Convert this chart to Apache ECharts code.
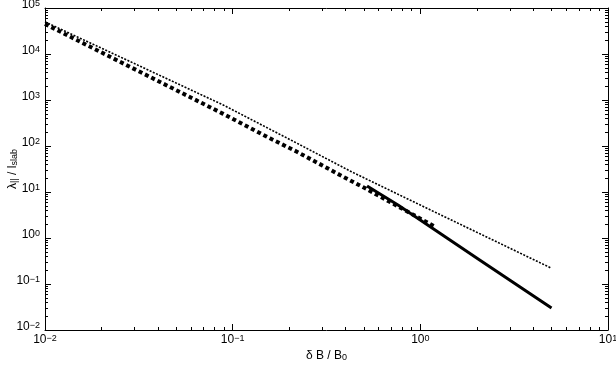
<!DOCTYPE html>
<html>
<head>
<meta charset="utf-8">
<script src="https://cdn.jsdelivr.net/npm/echarts@6/dist/echarts.min.js"></script>
<style>
  html, body { margin: 0; padding: 0; background: #fff; }
  #chart { width: 616px; height: 365px; }
</style>
</head>
<body>
<div id="chart"></div>
<script>
  // values (x = dB/B0, y = lambda_par / l_slab)
  const dottedLine = [[0.01, 50000], [0.089, 780], [0.22, 115], [0.43, 27.5], [1.0, 5.2], [5.0, 0.22]];
  const dashedLine = [[0.01, 45000], [0.089, 500], [0.158, 147], [0.22, 75], [0.373, 23.4], [0.5, 12.5], [1.2, 1.75]];
  const solidLine = [[0.52, 13.5], [0.76, 5.2], [2.08, 0.33], [5.0, 0.03]];

  const xDecades = [0.01, 0.1, 1, 10];
  const yDecades = [0.01, 0.1, 1, 10, 100, 1000, 10000, 100000];

  const font = 'Liberation Sans, Arial, Helvetica, sans-serif';

  function minorOf(decades) {
    let out = [];
    for (let i = 0; i < decades.length - 1; i++) {
      for (let k = 2; k <= 9; k++) {
        out.push(+(decades[i] * k).toPrecision(6));
      }
    }
    return out;
  }

  function powLabel(v) {
    const e = Math.round(Math.log10(v));
    return '{b|10}{s|' + (e < 0 ? '\u2212' + (-e) : e) + '}';
  }

  const powRich = {
    b: { fontSize: 12, lineHeight: 12, padding: [6, 0, 0, 0], verticalAlign: 'bottom', fontFamily: font, color: '#000' },
    s: { fontSize: 9, lineHeight: 9, verticalAlign: 'top', fontFamily: font, color: '#000' }
  };

  const lineStyle = { color: '#000', width: 1 };

  function axis(kind, pos, vals, minor, main) {
    const isX = kind === 'x';
    const a = {
      type: 'log',
      logBase: 10,
      gridIndex: 0,
      position: pos,
      min: vals[0],
      max: vals[vals.length - 1],
      splitLine: { show: false },
      minorTick: { show: false },
      axisLine: { show: !minor, lineStyle },
      axisTick: {
        show: true,
        inside: true,
        length: minor ? 3 : 6,
        lineStyle,
        customValues: minor ? minorOf(vals) : vals
      },
      axisLabel: { show: false }
    };
    if (main) {
      a.axisLabel = {
        show: true,
        customValues: vals,
        formatter: powLabel,
        rich: powRich,
        margin: isX ? 4 : 5,
        padding: isX ? 0 : [0, 0, 6, 0]
      };
    }
    return a;
  }

  const xAxes = [
    axis('x', 'bottom', xDecades, false, true),
    axis('x', 'bottom', xDecades, true, false),
    axis('x', 'top', xDecades, false, false),
    axis('x', 'top', xDecades, true, false)
  ];
  xAxes[0].name = '{m|\u03b4 B / B}{u|0}';
  xAxes[0].nameLocation = 'middle';
  xAxes[0].nameGap = 20;
  xAxes[0].nameMoveOverlap = false;
  xAxes[0].nameTextStyle = {
    rich: {
      m: { fontSize: 12, lineHeight: 12, padding: [0, 0, 4, 0], verticalAlign: 'top', fontFamily: font, color: '#000' },
      u: { fontSize: 9, lineHeight: 9, verticalAlign: 'bottom', fontFamily: font, color: '#000' }
    }
  };

  const yAxes = [
    axis('y', 'left', yDecades, false, true),
    axis('y', 'left', yDecades, true, false),
    axis('y', 'right', yDecades, false, false),
    axis('y', 'right', yDecades, true, false)
  ];
  yAxes[0].name = '{m|\u03bb}{u|||}{m| / l}{u|slab}';
  yAxes[0].nameLocation = 'middle';
  yAxes[0].nameGap = 26;
  yAxes[0].nameMoveOverlap = false;
  yAxes[0].nameTextStyle = {
    rich: {
      m: { fontSize: 12, lineHeight: 12, padding: [0, 0, 4, 0], verticalAlign: 'top', fontFamily: font, color: '#000' },
      u: { fontSize: 9, lineHeight: 9, verticalAlign: 'bottom', fontFamily: font, color: '#000' }
    }
  };

  const myChart = echarts.init(document.getElementById('chart'), null, { renderer: 'canvas' });
  myChart.setOption({
    animation: false,
    backgroundColor: '#fff',
    grid: { left: 45, right: 8, top: 8, bottom: 35, containLabel: false, outerBoundsMode: 'none' },
    xAxis: xAxes,
    yAxis: yAxes,
    series: [
      {
        type: 'line',
        data: dottedLine,
        showSymbol: false,
        lineStyle: { color: '#000', width: 1.6, type: [2, 1.5] }
      },
      {
        type: 'line',
        data: solidLine,
        showSymbol: false,
        lineStyle: { color: '#000', width: 3 }
      },
      {
        type: 'line',
        data: dashedLine,
        showSymbol: false,
        lineStyle: { color: '#000', width: 4, type: [4, 3], cap: 'butt' }
      }
    ]
  });
</script>
</body>
</html>
